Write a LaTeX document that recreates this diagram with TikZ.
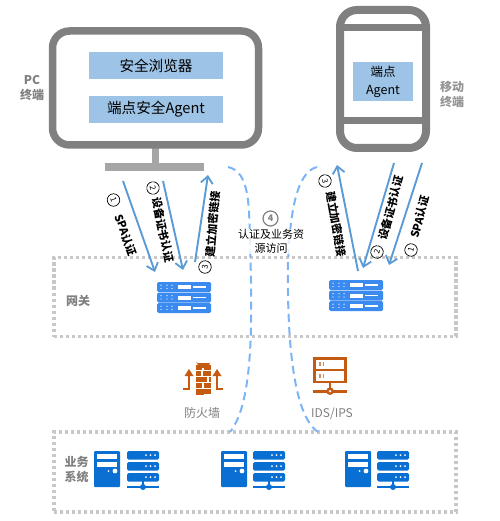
\documentclass[tikz,border=0pt]{standalone}
\usepackage{fontspec}
\setmainfont{Noto Sans CJK SC}
\usetikzlibrary{arrows.meta}
\definecolor{dev}{HTML}{808080}
\definecolor{standc}{HTML}{A6A6A6}
\definecolor{boxb}{HTML}{9DC3E6}
\definecolor{arr}{HTML}{5B9BD5}
\definecolor{dashc}{HTML}{7DB4F5}
\definecolor{zone}{HTML}{C8C8C8}
\definecolor{gw}{HTML}{3A8AF0}
\definecolor{biz}{HTML}{0A6FD2}
\definecolor{rust}{HTML}{C55A11}
\definecolor{lab}{HTML}{808080}
\tikzset{
  x=1pt,y=-1pt,
  bluebox/.style={fill=boxb,draw=none,inner sep=0pt,align=center,text=black,font=\fontsize{14.6}{17}\selectfont},
  grouplab/.style={text=lab,align=center,font=\fontsize{12}{15}\selectfont\bfseries,inner sep=0pt},
  iconlab/.style={text=lab,font=\fontsize{12}{15}\selectfont,inner sep=0pt},
  zonebox/.style={draw=zone,line width=3.4pt,dash pattern=on 3.4pt off 2.6pt},
  link/.style={draw=arr,line width=1.9pt,-{Straight Barb[length=7pt,width=12pt,line width=1.8pt]}},
  accessline/.style={draw=dashc,line width=2pt,dash pattern=on 8pt off 5pt},
  steplab/.style={text=black,font=\fontsize{11}{13}\selectfont\bfseries,inner sep=0pt},
  numcirc/.style={circle,draw=black,line width=.7pt,minimum size=12.5pt,inner sep=0pt,text=black,font=\fontsize{8}{9}\selectfont},
  pics/tower/.style={code={
    \fill[biz,rounded corners=1pt] (0,0) rectangle (26,36);
    \fill[white] (3,3) rectangle (23,8);
    \fill[white] (3,11) rectangle (23,16);
    \fill[white] (21,20) circle (2.4);
    \fill[white] (14.5,20) circle (1);
  }},
  pics/rack/.style={code={
    \foreach \yy in {0,11,22}{
      \fill[biz,rounded corners=1.5pt] (0,\yy) rectangle (32,\yy+8.5);
      \foreach \xx in {19,23.5,28}{\fill[white] (\xx,\yy+4.2) circle (1);}
    }
    \fill[biz] (15.2,30) rectangle (16.8,36);
    \fill[biz] (0,35) rectangle (32,37);
    \fill[biz] (16,36) circle (3);
  }},
  pics/gateway/.style={code={
    \foreach \yy in {0,10.5,21}{
      \fill[gw,rounded corners=1.5pt] (0,\yy) rectangle (54,\yy+10);
      \foreach \xx in {4,10,15}{\fill[white] (\xx,\yy+3.2) circle (.7);\fill[white] (\xx,\yy+6.5) circle (.7);}
      \fill[white] (21,\yy+3.2) rectangle (34,\yy+7);
      \fill[white] (36,\yy+4.4) rectangle (49,\yy+5.8);
    }
  }},
  pics/firewall/.style={code={
    \fill[rust] (-6,6) arc[start angle=180,end angle=0,x radius=6.5,y radius=6] -- (7,7) -- (-7,7) -- cycle;
    \foreach \ya/\xa/\xb in {9/-7/-0.6,9/1/8,15/-7/-2,15/-0.5/8,21/-7/4,21/5.5/8,27/-7/-0.6,27/1/8,33/-7/-4.5,33/-3/8}{
      \fill[rust] (\xa,\ya) rectangle (\xb,\ya+4.6);
    }
    \fill[rust] (-7,39) rectangle (1,33);
    \draw[rust,line width=2.6pt] (-20,33) -- (-14,33) -- (-14,19);
    \fill[rust] (-18.5,20) -- (-14,13) -- (-9.5,20) -- cycle;
    \draw[rust,line width=2.6pt] (20,33) -- (14,33) -- (14,19);
    \fill[rust] (18.5,20) -- (14,13) -- (9.5,20) -- cycle;
  }},
  pics/ids/.style={code={
    \draw[rust,line width=2.6pt] (1.3,1.3) rectangle (32.7,25);
    \draw[rust,line width=2pt] (1,13) -- (33,13);
    \fill[rust!70] (6,5) rectangle (7.5,9);\fill[rust!70] (9.5,5) rectangle (11,9);
    \fill[rust!70] (6,17) rectangle (7.5,21);\fill[rust!70] (9.5,17) rectangle (11,21);
    \fill[rust] (16,25) rectangle (18,31);
    \fill[rust] (0,33) rectangle (34,35.5);
    \fill[rust] (17,34.2) circle (3.8);
    \fill[white] (17,34.2) circle (1.3);
  }},
}
\begin{document}
\begin{tikzpicture}
\useasboundingbox (0,0) rectangle (499,521);
% zones
\node[zonebox,minimum width=402pt,minimum height=79pt,inner sep=0pt] (gwzone) at (255,297) {};
\node[zonebox,minimum width=402pt,minimum height=80pt,inner sep=0pt] (bizzone) at (255,472) {};
% PC
\fill[standc] (152,148) rectangle (159,165);
\fill[standc] (105,163.5) rectangle (204,171);
\node[draw=dev,line width=7.5pt,rounded corners=17pt,minimum width=206pt,minimum height=114pt,inner sep=0pt,fill=white] (pc) at (155.5,88) {};
\node[bluebox,minimum width=134pt,minimum height=27pt] (browser) at (156,65.5) {安全浏览器};
\node[bluebox,minimum width=134pt,minimum height=27pt] (agentpc) at (156,109.5) {端点安全Agent};
\node[grouplab] (pclab) at (32,88) {PC\\终端};
% phone
\node[draw=dev,line width=8pt,rounded corners=17pt,minimum width=86pt,minimum height=138pt,inner sep=0pt,fill=white] (phone) at (383,79) {};
\fill[dev] (336,24) rectangle (430,31.5);
\fill[dev] (336,117) rectangle (430,124);
\node[bluebox,minimum width=60pt,minimum height=39pt,font=\fontsize{12.5}{18}\selectfont] (agentm) at (383,81.5) {端点\\Agent};
\node[grouplab,text=lab!85] (mlab) at (452,94) {移动\\终端};
% group labels
\node[grouplab] (gwlab) at (78,300.5) {网关};
\node[grouplab] (bizlab) at (76.5,469) {业务\\系统};
% access lines
\coordinate (la) at (228,167);
\coordinate (lb) at (230,432);
\coordinate (ra) at (317,167);
\coordinate (rb) at (318,432);
\draw[accessline] (la) .. controls (250,172) and (249,205) .. (250,245) .. controls (253,330) and (252,405) .. (lb);
\draw[accessline] (ra) .. controls (296,172) and (290,215) .. (288,262) .. controls (287,340) and (293,415) .. (rb);
% servers
\pic at (157,282) {gateway};
\pic at (329,280) {gateway};
\pic at (203,356) {firewall};
\pic at (313,357) {ids};
\node[iconlab] (fwlab) at (202,413) {防火墙};
\node[iconlab] (idslab) at (332,413.5) {IDS/IPS};
\pic at (94,451) {tower};
\pic at (127,451) {rack};
\pic at (221,451) {tower};
\pic at (253,451) {rack};
\pic at (345,451) {tower};
\pic at (377,451) {rack};
% links
\coordinate (a1) at (123,181); \coordinate (b1) at (155,272);
\coordinate (a2) at (163,181); \coordinate (b2) at (183,270);
\coordinate (a3) at (195,262); \coordinate (b3) at (208,175);
\coordinate (c3) at (358,271); \coordinate (d3) at (337,165);
\coordinate (c2) at (394,163); \coordinate (d2) at (363,268);
\coordinate (c1) at (422,163); \coordinate (d1) at (389,265);
\draw[link] (a1) -- (b1);
\draw[link] (a2) -- (b2);
\draw[link] (a3) -- (b3);
\draw[link] (c3) -- (d3);
\draw[link] (c2) -- (d2);
\draw[link] (c1) -- (d1);
% step labels
\node[steplab,rotate=-70] (s1) at (126,235) {SPA认证};
\node[steplab,rotate=-78] (s2) at (163,230) {设备证书认证};
\node[steplab,rotate=85] (s3) at (212.5,224) {建立加密链接};
\node[steplab,rotate=-80] (s4) at (336,224) {建立加密链接};
\node[steplab,rotate=75] (s5) at (391,208) {设备证书认证};
\node[steplab,rotate=75] (s6) at (420,217) {SPA认证};
\node[numcirc,rotate=-70] (n1) at (113.5,200) {1};
\node[numcirc,rotate=-78] (n2) at (153,188) {2};
\node[numcirc,rotate=85] (n3) at (205,267) {3};
\node[numcirc,rotate=-80] (n4) at (325,181) {3};
\node[numcirc,rotate=75] (n5) at (377,252) {2};
\node[numcirc,rotate=75] (n6) at (411,250) {1};
\node[numcirc,draw=dev,text=dev,line width=1.2pt,minimum size=15pt,font=\fontsize{9}{10}\selectfont\bfseries] (n7) at (270.5,218.5) {4};
\node[text=black,align=center,inner sep=0pt,font=\fontsize{11}{14.5}\selectfont,fill=white,fill opacity=.8,text opacity=1] (acc) at (271,241.5) {认证及业务资\\源访问};
\end{tikzpicture}
\end{document}
